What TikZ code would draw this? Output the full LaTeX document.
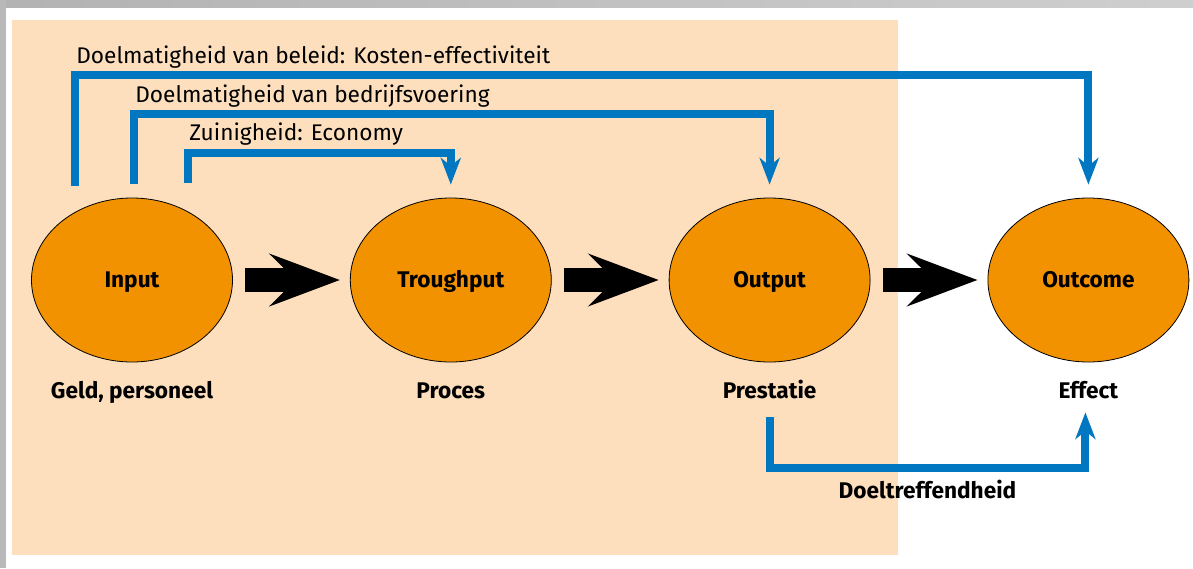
\documentclass[tikz,border=0pt]{standalone}
\usepackage{fontspec}
\setsansfont{Fira Sans}
\usepackage{xcolor}
\definecolor{pmbg}{HTML}{FDDFBE}
\definecolor{pmorange}{HTML}{F39200}
\definecolor{pmblue}{HTML}{0077C0}
\usetikzlibrary{arrows.meta,positioning,shapes.geometric,calc}
\tikzset{
  pmstage/.style={ellipse,draw=black,line width=0.6pt,fill=pmorange,minimum width=150.75pt,minimum height=123pt,inner sep=0pt,text height=11.7pt,text depth=0pt,font=\sffamily\bfseries\fontsize{17}{20}\selectfont},
  pmsub/.style={inner sep=0pt,text=black,text height=12.5pt,text depth=3.5pt,font=\sffamily\bfseries\fontsize{17}{20}\selectfont},
  pmlabel/.style={inner sep=0pt,text=black,anchor=base west,font=\sffamily\fontsize{17}{20}\selectfont},
  pmflow/.style={line width=18pt,-{Stealth[length=52.5pt,width=39pt,inset=19.5pt]},shorten <=9pt,shorten >=7.5pt},
  pmlink/.style={pmblue,line width=6pt,-{Stealth[length=20pt,width=15pt,inset=6pt]}},
}

\begin{document}
\begin{tikzpicture}[x=0.75pt,y=-0.75pt,node distance=87.75pt]
  \useasboundingbox (0,0) rectangle (1193,568);
  % frame and background
  \shade[left color=gray!60,right color=gray!38] (0,0) rectangle (1193,7);
  \fill[gray!55] (0,0) rectangle (6,568);
  \fill[pmbg] (12,20) rectangle (898,555);
  % stages
  \node[pmstage] (inp) at (132,280) {Input};
  \node[pmstage,right=of inp] (thr) {Troughput};
  \node[pmstage,right=of thr] (outp) {Output};
  \node[pmstage,right=of outp] (outc) {Outcome};
  \node[pmsub,below=14pt of inp] (inpsub) {Geld, personeel};
  \node[pmsub,below=14pt of thr] (thrsub) {Proces};
  \node[pmsub,below=14pt of outp] (outpsub) {Prestatie};
  \node[pmsub,below=14pt of outc] (outcsub) {Effect};
  \draw[pmflow] (inp) -- (thr);
  \draw[pmflow] (thr) -- (outp);
  \draw[pmflow] (outp) -- (outc);
  % efficiency links
  \coordinate (lvl1) at (0,75);
  \coordinate (lvl2) at (0,114);
  \coordinate (lvl3) at (0,153);
  \coordinate (lvl4) at (0,468);
  \coordinate (src1) at ($(inp.north)+(-57,-12)$);
  \coordinate (src2) at ($(inp.north)+(2,-14)$);
  \coordinate (src3) at ($(inp.north)+(56,-15)$);
  \coordinate (src4) at ($(outp.south)+(0,55)$);
  \coordinate (dst1) at ($(outc.north)+(0,-13)$);
  \coordinate (dst2) at ($(outp.north)+(0,-13)$);
  \coordinate (dst3) at ($(thr.north)+(0,-13)$);
  \coordinate (dst4) at ($(outc.south)+(-3,50)$);
  \draw[pmlink] (src1) -- (src1 |- lvl1) node[pmlabel,xshift=-2pt,yshift=9pt] {Doelmatigheid van beleid: Kosten-effectiviteit} -| (dst1);
  \draw[pmlink] (src2) -- (src2 |- lvl2) node[pmlabel,xshift=-2pt,yshift=9pt] {Doelmatigheid van bedrijfsvoering} -| (dst2);
  \draw[pmlink] (src3) -- (src3 |- lvl3) node[pmlabel,xshift=-2pt,yshift=9.75pt] {Zuinigheid: Economy} -| (dst3);
  \draw[pmlink] (src4) -- (src4 |- lvl4) -| node[pmsub,below=7.5pt,pos=0.25] {Doeltreffendheid} (dst4);
\end{tikzpicture}
\end{document}
